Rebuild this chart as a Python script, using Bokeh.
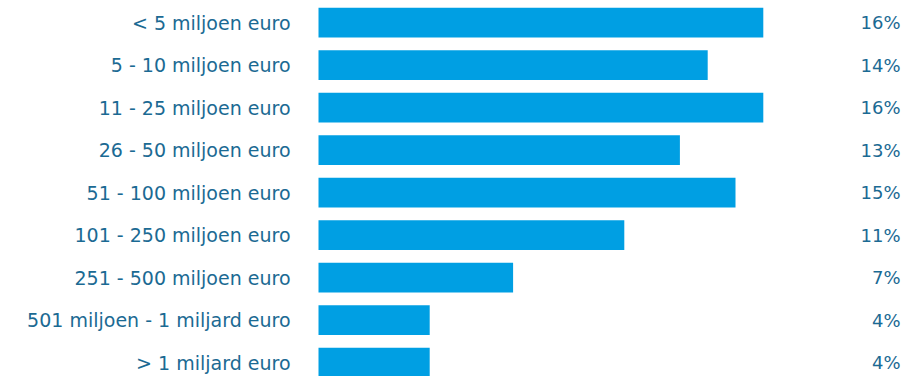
from bokeh.plotting import figure
from bokeh.models import Range1d, ColumnDataSource
from bokeh.core.properties import value
from bokeh.embed import file_html
from bokeh.resources import INLINE

categories = ["< 5 miljoen euro", "5 - 10 miljoen euro", "11 - 25 miljoen euro",
              "26 - 50 miljoen euro", "51 - 100 miljoen euro", "101 - 250 miljoen euro",
              "251 - 500 miljoen euro", "501 miljoen - 1 miljard euro", "> 1 miljard euro"]
values = [16, 14, 16, 13, 15, 11, 7, 4, 4]
labels = [f"{v}%" for v in values]

W, H = 921, 376
px_per = 27.8
x0 = 318
row0 = 22
row_h = 42.5

idx = list(range(len(categories)))
src = ColumnDataSource(dict(y=idx, v=values, cat=categories, lab=labels,
                            zero=[0] * len(idx)))

p = figure(width=W, height=H, output_backend="svg", toolbar_location=None,
           min_border=0, x_axis_location=None, y_axis_location=None,
           x_range=Range1d(-x0 / px_per, (W - x0) / px_per),
           y_range=Range1d((H - row0) / row_h, -row0 / row_h))
p.outline_line_color = None
p.grid.visible = False
p.background_fill_color = "white"
p.border_fill_color = "white"

p.hbar(y="y", left=0, right="v", height=0.7, source=src,
       fill_color="#009FE3", line_color=None)

font = value("DejaVu Sans")
p.text(x="zero", y="y", text="cat", source=src, x_offset=-28,
       text_align="right", text_baseline="middle", text_font=font,
       text_font_size="19px", text_color="#1B6A93")
xr = (900 - x0) / px_per
p.text(x=xr, y="y", text="lab", source=src,
       text_align="right", text_baseline="middle", text_font=font,
       text_font_size="18px", text_color="#1B6A93")

open("out.html", "w").write(file_html(p, INLINE))
